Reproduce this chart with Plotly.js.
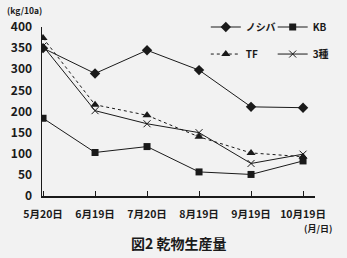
<!DOCTYPE html>
<html><head><meta charset="utf-8">
<script src="https://cdn.plot.ly/plotly-3.0.1.min.js"></script>
<style>html,body{margin:0;padding:0;background:#f2f2f2;}</style>
</head><body><div id="chart" style="width:347px;height:258px;"></div>
<script>
const dates = ['5月20日','6月19日','7月20日','8月19日','9月19日','10月19日'];
const noshiba = [350, 290, 345, 298, 211, 209];
const kb = [184, 103, 117, 57, 51, 83];
const tf = [374, 216, 191, 140, 102, 93];
const sanshu = [355, 202, 171, 150, 77, 99];
const yTicks = [0, 50, 100, 150, 200, 250, 300, 350, 400];

const F = '"Noto Sans CJK JP", "Noto Sans", sans-serif';
const col = '#1a1a1a';
const idx = dates.map((d, i) => i);

const traces = [
  {name:'ノシバ', x: idx, y: noshiba, mode:'lines+markers', legend:'legend',
   line:{color:col, width:1}, marker:{symbol:'diamond', size:8, color:col}},
  {name:'KB', x: idx, y: kb, mode:'lines+markers', legend:'legend2',
   line:{color:col, width:1}, marker:{symbol:'square', size:7, color:col}},
  {name:'TF', x: idx, y: tf, mode:'lines+markers', legend:'legend3',
   line:{color:col, width:1, dash:'dot'}, marker:{symbol:'triangle-up', size:8, color:col}},
  {name:'3種', x: idx, y: sanshu, mode:'lines+markers', legend:'legend4',
   line:{color:col, width:1}, marker:{symbol:'x-thin-open', size:7, color:col, line:{color:col, width:1}}}
];

function leg(x, y) {
  return {orientation:'h', xref:'paper', yref:'paper', xanchor:'left', yanchor:'middle', x:x, y:y,
    bgcolor:'rgba(0,0,0,0)', font:{family:F, size:10, color:col, weight:'bold'},
    itemwidth:30};
}

const layout = {
  width:347, height:258,
  paper_bgcolor:'#f2f2f2', plot_bgcolor:'#f2f2f2',
  margin:{l:42, r:32, t:27, b:62, autoexpand:false},
  showlegend:true,
  legend: leg(0.6, 1.0),
  legend2: leg(0.845, 1.0),
  legend3: leg(0.6, 0.84),
  legend4: leg(0.845, 0.84),
  title:{text:'図2 乾物生産量', font:{family:F, size:14, color:col, weight:'bold'},
    xref:'container', yref:'container', x:0.515, y:0.055, xanchor:'center', yanchor:'middle'},
  xaxis:{
    range:[-0.02, 5.23], tickmode:'array', tickvals: idx, ticktext: dates,
    showline:true, linecolor:col, linewidth:1.5, showgrid:false, zeroline:false,
    ticks:'inside', ticklen:5, tickcolor:col, tickwidth:1,
    tickfont:{family:F, size:10.5, color:col, weight:'bold'}, ticklabelstandoff:8
  },
  yaxis:{
    range:[0, 400], tickmode:'array', tickvals: yTicks,
    showline:true, linecolor:col, linewidth:1.5, showgrid:false, zeroline:false,
    ticks:'', tickfont:{family:F, size:12, color:col, weight:'bold'}, ticklabelstandoff:6
  },
  annotations:[
    {text:'(kg/10a)', xref:'paper', yref:'paper', x:-0.135, y:1.1, xanchor:'left', yanchor:'middle',
     showarrow:false, font:{family:F, size:8.5, color:col, weight:'bold'}},
    {text:'(月/日)', xref:'paper', yref:'paper', x:1.07, y:-0.19, xanchor:'right', yanchor:'middle',
     showarrow:false, font:{family:F, size:9, color:col, weight:'bold'}}
  ]
};

Plotly.newPlot('chart', traces, layout, {staticPlot:true, displayModeBar:false});
</script></body></html>
